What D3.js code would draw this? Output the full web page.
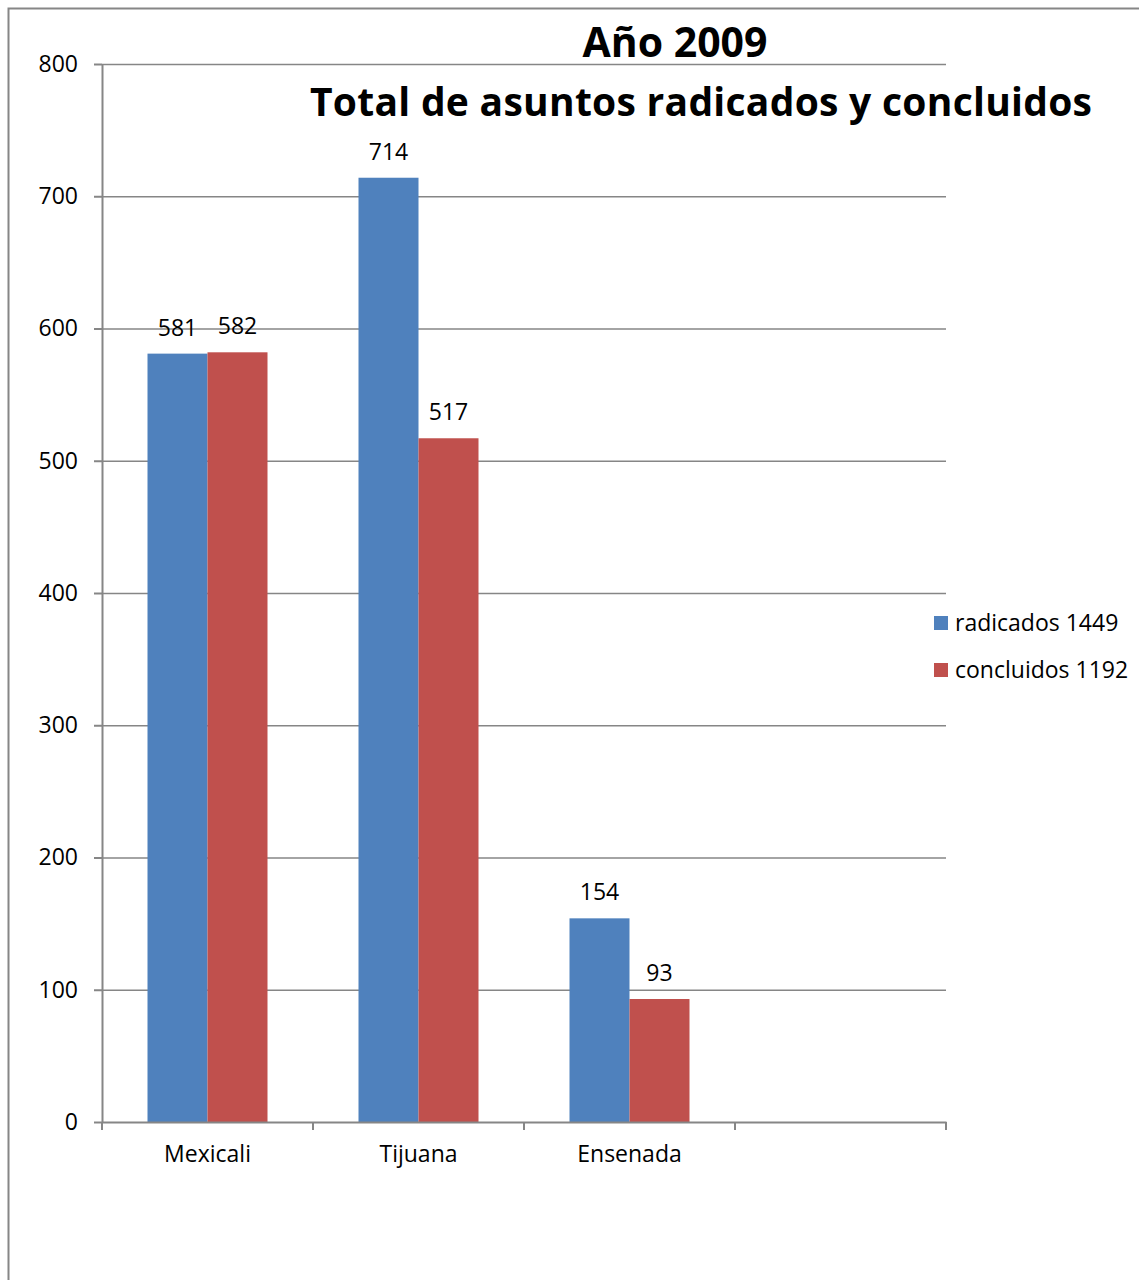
<!DOCTYPE html>
<html>
<head>
<meta charset="utf-8">
<script src="https://cdn.jsdelivr.net/npm/d3@7"></script>
<style>
  body { margin: 0; background: #fff; }
  svg text { font-family: "Open Sans", "Noto Sans", sans-serif; fill: #000; }
  .axis path, .axis line { stroke: #868686; stroke-width: 2; }
  .axis text { font-size: 23px; }
  .grid line { stroke: #868686; stroke-width: 1.5; }
  .grid path { display: none; }
</style>
</head>
<body>
<svg id="chart" width="1139" height="1280"></svg>
<script>
// data
const cities = ["Mexicali", "Tijuana", "Ensenada", ""]
const radicados = [581, 714, 154, null]
const concluidos = [582, 517, 93, null]
const seriesNames = ["radicados 1449", "concluidos 1192"]
const seriesColors = ["#4f81bd", "#c0504d"]
const yTicks = [0, 100, 200, 300, 400, 500, 600, 700, 800]

const svg = d3.select("#chart")

// outer frame
svg.append("rect")
  .attr("x", 8.5).attr("y", 8.5)
  .attr("width", 1200).attr("height", 1400)
  .attr("fill", "none").attr("stroke", "#868686").attr("stroke-width", 2)

const marginLeft = 102, marginTop = 64, width = 844, height = 1058

const chart = svg.append("g")
  .attr("transform", `translate(${marginLeft}, ${marginTop})`)

const xScale = d3.scaleBand()
  .range([0, width])
  .domain(d3.range(cities.length))

const xInner = d3.scaleBand()
  .range([0, 120])
  .domain([0, 1])

const yScale = d3.scaleLinear()
  .range([height, 0])
  .domain([0, 800])

// gridlines
chart.append("g")
  .attr("class", "grid")
  .call(d3.axisLeft(yScale)
    .tickValues(yTicks.slice(1))
    .tickSize(-width)
    .tickFormat("")
  )

const rows = cities.map((c, i) => ({ i, vals: [radicados[i], concluidos[i]] }))
  .filter(d => d.vals[0] != null)

const groups = chart.selectAll(".city")
  .data(rows)
  .enter()
  .append("g")
  .attr("transform", d => `translate(${xScale(d.i) + (xScale.bandwidth() - 120) / 2}, 0)`)

groups.selectAll("rect")
  .data(d => d.vals)
  .enter()
  .append("rect")
  .attr("x", (v, j) => xInner(j))
  .attr("y", v => yScale(v))
  .attr("width", xInner.bandwidth())
  .attr("height", v => height - yScale(v))
  .attr("fill", (v, j) => seriesColors[j])

groups.selectAll(".value")
  .data(d => d.vals)
  .enter()
  .append("text")
  .attr("x", (v, j) => xInner(j) + xInner.bandwidth() / 2)
  .attr("y", v => yScale(v) - 18)
  .attr("text-anchor", "middle")
  .style("font-size", "23px")
  .text(v => v)

// axes
chart.append("g")
  .attr("class", "axis")
  .call(d3.axisLeft(yScale).tickValues(yTicks).tickSize(8).tickSizeOuter(0).tickPadding(16))

const xAxis = chart.append("g")
  .attr("class", "axis")
  .attr("transform", `translate(0, ${height})`)
  .call(d3.axisBottom(xScale).tickSize(0).tickSizeOuter(0).tickPadding(24)
    .tickFormat(i => cities[i]))

xAxis.selectAll(".sep")
  .data(d3.range(cities.length + 1))
  .enter()
  .append("line")
  .attr("x1", i => i * xScale.step())
  .attr("x2", i => i * xScale.step())
  .attr("y1", 0).attr("y2", 8)

// title
svg.append("text")
  .attr("x", 675).attr("y", 57)
  .attr("text-anchor", "middle")
  .style("font-size", "41px").style("font-weight", "bold")
  .text("Año 2009")
svg.append("text")
  .attr("x", 701).attr("y", 116)
  .attr("text-anchor", "middle")
  .style("font-size", "39px").style("font-weight", "bold")
  .attr("textLength", 782)
  .text("Total de asuntos radicados y concluidos")

// legend
const legend = svg.append("g").attr("transform", "translate(934, 616)")
seriesNames.forEach((name, j) => {
  legend.append("rect")
    .attr("x", 0).attr("y", j * 47)
    .attr("width", 14).attr("height", 14)
    .attr("fill", seriesColors[j])
  legend.append("text")
    .attr("x", 21).attr("y", j * 47 + 15)
    .style("font-size", "23px")
    .text(name)
})
</script>
</body>
</html>
